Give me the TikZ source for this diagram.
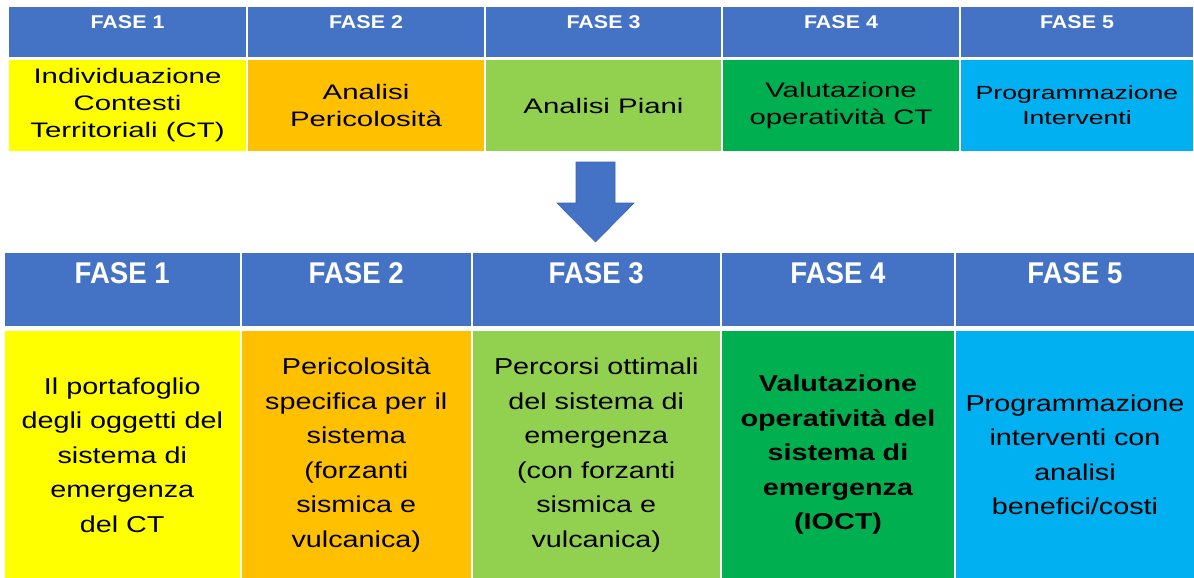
\documentclass[tikz,border=0pt]{standalone}
\usepackage{fontspec}
\setmainfont{Liberation Sans}
\newfontfamily\topfasefont[FakeStretch=1.16]{Liberation Sans}
\newfontfamily\topcellfont[FakeStretch=1.4]{Liberation Sans}
\newfontfamily\botfasefont[FakeStretch=0.92]{Liberation Sans}
\newfontfamily\botcellfont[FakeStretch=1.25]{Liberation Sans}
\definecolor{hdrblue}{HTML}{4472C4}
\definecolor{cyel}{HTML}{FFFF00}
\definecolor{corg}{HTML}{FFC000}
\definecolor{clgr}{HTML}{92D050}
\definecolor{cgrn}{HTML}{00B050}
\definecolor{ccyn}{HTML}{00B0F0}
\definecolor{arrowedge}{HTML}{3A66B5}
\tikzset{
  cellbox/.style={rectangle, inner sep=0pt, draw=none, align=center},
  tophdr/.style={cellbox, fill=hdrblue, minimum height=50pt},
  topcell/.style={cellbox, minimum height=91pt, font={\topcellfont\fontsize{21}{27}\selectfont}},
  tophdrtext/.style={anchor=base, inner sep=0pt, text=white, font={\topfasefont\bfseries\fontsize{18.5}{20}\selectfont}},
  bothdr/.style={cellbox, fill=hdrblue, minimum height=73pt},
  botcell/.style={cellbox, minimum height=248pt, font={\botcellfont\fontsize{23}{34.5}\selectfont}},
  bothdrtext/.style={anchor=base, inner sep=0pt, text=white, font={\botfasefont\bfseries\fontsize{30}{34}\selectfont}},
}
\begin{document}
\begin{tikzpicture}[x=1pt,y=-1pt]
\useasboundingbox (0,0) rectangle (1194,578);
% ---------- top strip ----------
\node[tophdr, minimum width=237pt] (th1) at (127.5,32) {};
\node[tophdr, minimum width=236pt] (th2) at (366,32) {};
\node[tophdr, minimum width=235pt] (th3) at (603.5,32) {};
\node[tophdr, minimum width=236pt] (th4) at (841,32) {};
\node[tophdr, minimum width=232pt] (th5) at (1077,32) {};
\node[tophdrtext] (tt1) at (127.5,28.7) {FASE 1};
\node[tophdrtext] (tt2) at (366,28.7) {FASE 2};
\node[tophdrtext] (tt3) at (603.5,28.7) {FASE 3};
\node[tophdrtext] (tt4) at (841,28.7) {FASE 4};
\node[tophdrtext] (tt5) at (1077,28.7) {FASE 5};
\node[topcell, fill=cyel, minimum width=237pt] (tc1) at (127.5,105.5) {Individuazione\\Contesti\\Territoriali (CT)};
\node[topcell, fill=corg, minimum width=236pt] (tc2) at (366,105.5) {Analisi\\Pericolosità};
\node[topcell, fill=clgr, minimum width=235pt] (tc3) at (603.5,105.5) {Analisi Piani};
\node[topcell, fill=cgrn, minimum width=236pt] (tc4) at (841,105.5) {Valutazione\\operatività CT};
\node[topcell, fill=ccyn, minimum width=232pt, font={\topcellfont\fontsize{19}{25}\selectfont}] (tc5) at (1077,105.5) {Programmazione\\Interventi};
% ---------- block arrow ----------
\fill[hdrblue, draw=arrowedge, line width=0.6pt, line join=miter]
  (576,162) -- (615,162) -- (615,203) -- (634,203) -- (595.5,242) -- (557,203) -- (576,203) -- cycle;
% ---------- bottom table ----------
\node[bothdr, minimum width=235.5pt] (bh1) at (122.25,289.5) {};
\node[bothdr, minimum width=228.5pt] (bh2) at (356.25,289.5) {};
\node[bothdr, minimum width=247.5pt] (bh3) at (596.25,289.5) {};
\node[bothdr, minimum width=232pt] (bh4) at (838,289.5) {};
\node[bothdr, minimum width=238pt] (bh5) at (1075,289.5) {};
\node[bothdrtext] (bt1) at (122.25,283.3) {FASE 1};
\node[bothdrtext] (bt2) at (356.25,283.3) {FASE 2};
\node[bothdrtext] (bt3) at (596.25,283.3) {FASE 3};
\node[bothdrtext] (bt4) at (838,283.3) {FASE 4};
\node[bothdrtext] (bt5) at (1075,283.3) {FASE 5};
\node[botcell, fill=cyel, minimum width=235.5pt] (bc1) at (122.25,455) {Il portafoglio\\degli oggetti del\\sistema di\\emergenza\\del CT};
\node[botcell, fill=corg, minimum width=228.5pt] (bc2) at (356.25,455) {Pericolosità\\specifica per il\\sistema\\(forzanti\\sismica e\\vulcanica)};
\node[botcell, fill=clgr, minimum width=247.5pt] (bc3) at (596.25,455) {Percorsi ottimali\\del sistema di\\emergenza\\(con forzanti\\sismica e\\vulcanica)};
\node[botcell, fill=cgrn, minimum width=232pt, font={\botcellfont\bfseries\fontsize{23}{34.5}\selectfont}] (bc4) at (838,455) {Valutazione\\operatività del\\sistema di\\emergenza\\(IOCT)};
\node[botcell, fill=ccyn, minimum width=238pt] (bc5) at (1075,455) {Programmazione\\interventi con\\analisi\\benefici/costi};
\end{tikzpicture}
\end{document}
